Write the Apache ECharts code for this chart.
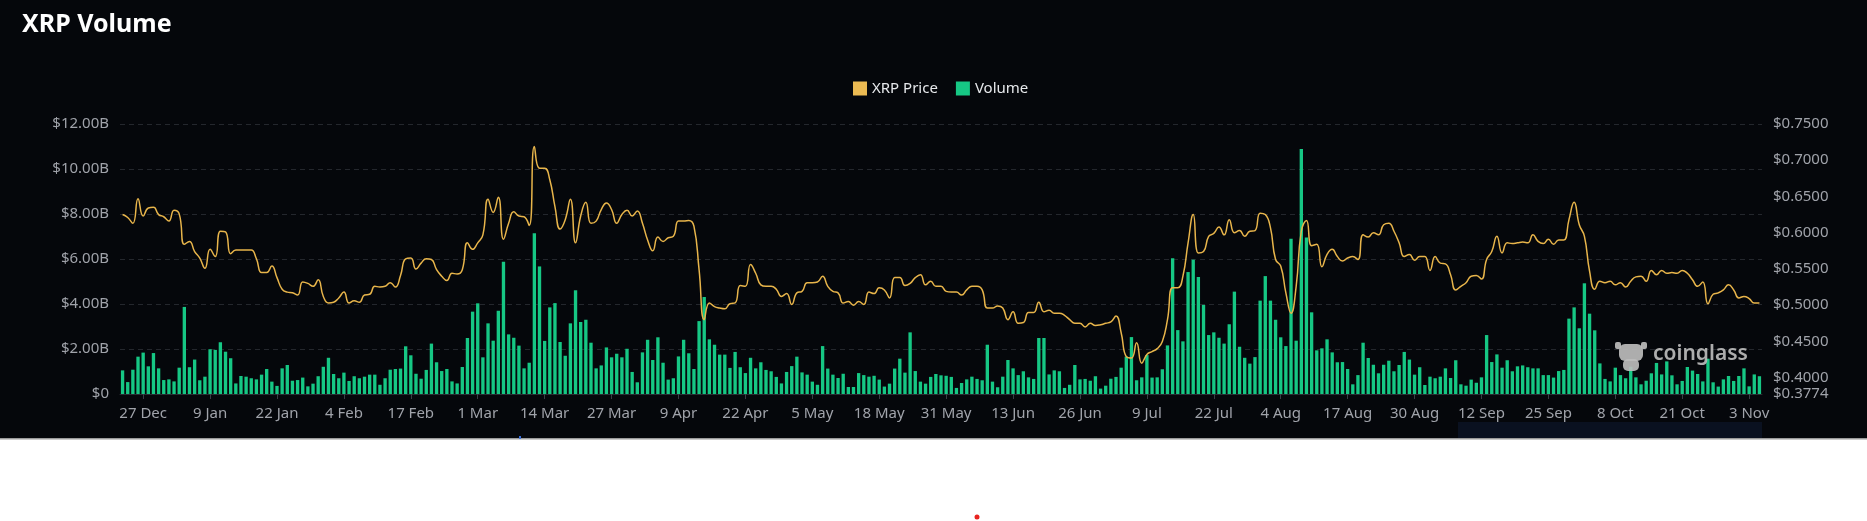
<!DOCTYPE html>
<html>
<head>
<meta charset="utf-8">
<script src="https://cdn.jsdelivr.net/npm/echarts@6/dist/echarts.min.js"></script>
<style>
html,body{margin:0;padding:0;background:#ffffff;}
#chart{width:1867px;height:521px;}
</style>
</head>
<body>
<div id="chart"></div>
<script>
// Daily categories: 23 Dec 2023 .. 5 Nov 2024
var startDate = [2023, 11, 23];
var dayCount = 319;
var monthNames = ['Jan','Feb','Mar','Apr','May','Jun','Jul','Aug','Sep','Oct','Nov','Dec'];
var categories = [];
for (var d = 0; d < dayCount; d++) {
  var dt = new Date(Date.UTC(startDate[0], startDate[1], startDate[2] + d));
  categories.push(dt.getUTCDate() + ' ' + monthNames[dt.getUTCMonth()]);
}

// Right axis tick labels
var priceTicks = [0.3774, 0.40, 0.45, 0.50, 0.55, 0.60, 0.65, 0.70, 0.75];

// Volume in billions USD
var volumeB = [
1.05,0.53,1.08,1.66,1.84,1.23,1.82,1.14,0.62,0.65,
0.56,1.17,3.87,1.19,1.53,0.61,0.77,1.99,1.96,2.30,
1.88,1.59,0.47,0.80,0.77,0.70,0.65,0.86,1.11,0.55,
0.36,1.14,1.29,0.59,0.62,0.73,0.34,0.46,0.79,1.21,
1.61,0.89,0.70,0.95,0.58,0.79,0.70,0.77,0.86,0.86,
0.41,0.70,1.08,1.11,1.13,2.12,1.72,0.90,0.68,1.07,
2.24,1.41,1.02,1.11,0.56,0.47,1.20,2.49,3.66,4.03,
1.63,3.14,2.37,3.70,5.88,2.65,2.50,2.15,1.14,1.39,
7.14,5.67,2.36,3.85,4.04,2.31,1.70,3.14,4.61,3.20,
3.30,2.28,1.14,1.27,2.07,1.63,1.79,1.63,2.01,0.98,
0.52,1.85,2.41,1.51,2.52,1.39,0.64,0.70,1.67,2.41,
1.81,1.11,3.24,4.31,2.43,2.19,1.75,1.75,1.16,1.87,
1.19,0.93,1.61,1.14,1.41,1.07,1.01,0.76,0.47,0.98,
1.24,1.66,0.96,0.86,0.55,0.41,2.13,1.13,0.86,0.71,
0.90,0.31,0.31,0.93,0.84,0.77,0.81,0.64,0.33,0.46,
1.13,1.57,0.95,2.74,1.02,0.55,0.46,0.76,0.89,0.83,
0.81,0.76,0.27,0.49,0.65,0.77,0.67,0.61,2.19,0.55,
0.30,0.77,1.51,1.14,0.84,1.01,0.74,0.67,2.49,2.49,
0.87,1.05,1.01,0.27,0.41,1.29,0.65,0.67,0.59,0.79,
0.24,0.37,0.68,0.76,1.17,1.66,2.53,0.61,0.74,1.73,
0.73,0.74,1.10,2.16,6.03,2.84,2.34,5.42,5.97,5.20,
3.96,2.62,2.74,2.50,2.24,3.10,4.55,2.10,1.61,1.35,
1.64,4.15,5.24,4.15,3.30,2.52,2.13,6.90,2.37,10.89,
6.96,3.63,1.94,2.03,2.43,1.85,1.41,1.42,1.11,0.43,
0.84,2.28,1.60,1.30,0.92,1.30,1.48,1.01,1.29,1.87,
1.53,0.86,1.19,0.40,0.77,0.70,0.77,1.14,0.71,1.50,
0.43,0.37,0.64,0.50,0.74,2.62,1.42,1.76,1.17,1.50,
1.01,1.23,1.27,1.19,1.14,1.14,0.84,0.84,0.73,1.02,
1.07,3.35,3.85,2.92,4.92,3.57,2.83,1.36,0.67,0.56,
1.17,0.84,0.70,1.21,0.74,0.43,0.59,0.92,1.38,0.87,
1.45,0.83,0.43,0.58,1.20,1.04,0.89,0.56,1.57,0.52,
0.33,0.65,0.80,0.58,0.80,1.14,0.34,0.87,0.79
];

// XRP price in USD
var priceUSD = [
0.625,0.621,0.613,0.647,0.623,0.634,0.635,0.625,0.622,0.616,
0.631,0.626,0.584,0.588,0.574,0.565,0.551,0.577,0.567,0.602,
0.601,0.571,0.576,0.576,0.576,0.576,0.564,0.545,0.545,0.554,
0.538,0.522,0.518,0.517,0.514,0.532,0.530,0.526,0.535,0.512,
0.503,0.504,0.510,0.518,0.503,0.506,0.504,0.514,0.515,0.526,
0.525,0.526,0.531,0.525,0.541,0.564,0.565,0.550,0.558,0.564,
0.563,0.549,0.540,0.534,0.544,0.543,0.549,0.586,0.577,0.586,
0.597,0.646,0.628,0.649,0.591,0.613,0.629,0.623,0.622,0.610,
0.719,0.689,0.689,0.673,0.636,0.605,0.618,0.646,0.586,0.623,
0.642,0.613,0.616,0.632,0.641,0.632,0.613,0.625,0.631,0.623,
0.630,0.613,0.590,0.575,0.594,0.588,0.593,0.595,0.616,0.616,
0.617,0.609,0.549,0.480,0.503,0.498,0.496,0.495,0.502,0.503,
0.527,0.526,0.556,0.544,0.528,0.526,0.526,0.522,0.512,0.516,
0.501,0.517,0.519,0.531,0.531,0.532,0.540,0.526,0.519,0.517,
0.503,0.505,0.500,0.505,0.501,0.518,0.516,0.524,0.521,0.510,
0.538,0.538,0.527,0.530,0.538,0.542,0.528,0.533,0.526,0.526,
0.519,0.518,0.518,0.514,0.521,0.526,0.526,0.521,0.496,0.496,
0.499,0.496,0.480,0.491,0.475,0.476,0.490,0.490,0.504,0.491,
0.493,0.489,0.489,0.486,0.480,0.475,0.475,0.470,0.475,0.472,
0.473,0.475,0.477,0.485,0.462,0.429,0.427,0.448,0.420,0.432,
0.436,0.440,0.450,0.480,0.524,0.524,0.540,0.586,0.625,0.572,
0.574,0.595,0.599,0.608,0.597,0.618,0.600,0.603,0.595,0.602,
0.603,0.627,0.625,0.607,0.563,0.554,0.517,0.489,0.526,0.602,
0.617,0.582,0.584,0.553,0.570,0.577,0.567,0.561,0.565,0.567,
0.563,0.597,0.594,0.600,0.597,0.611,0.613,0.602,0.586,0.567,
0.570,0.562,0.567,0.567,0.548,0.567,0.558,0.557,0.542,0.521,
0.526,0.531,0.540,0.541,0.536,0.563,0.574,0.595,0.572,0.586,
0.585,0.586,0.587,0.586,0.597,0.588,0.585,0.591,0.584,0.590,
0.590,0.618,0.642,0.611,0.595,0.547,0.522,0.533,0.531,0.533,
0.528,0.531,0.525,0.533,0.539,0.540,0.533,0.548,0.542,0.548,
0.544,0.545,0.544,0.548,0.544,0.535,0.526,0.532,0.502,0.515,
0.517,0.521,0.528,0.521,0.510,0.512,0.509,0.503,0.503
];

var volumeUSD = volumeB.map(function (v) { return v * 1e9; });

var chart = echarts.init(document.getElementById('chart'), null, {renderer: 'canvas'});
var labelColor = '#a0a3aa';
var fontFam = '"Noto Sans", Inter, sans-serif';
var labelIdx = function (i) { return i >= 4 && (i - 4) % 13 === 0; };
var logoFill = 'rgba(188,188,188,0.92)';

chart.setOption({
  backgroundColor: 'transparent',
  animation: false,
  graphic: [
    {type: 'rect', z: -10, silent: true, shape: {x: 0, y: 0, width: 1867, height: 438}, style: {fill: '#05070b'}},
    {type: 'rect', z: -9, silent: true, shape: {x: 1458, y: 422, width: 304, height: 16}, style: {fill: '#0a1120'}},
    {type: 'rect', z: -9, silent: true, shape: {x: 0, y: 438, width: 1867, height: 1.5}, style: {fill: '#9a9a9a'}},
    {type: 'rect', z: -8, silent: true, shape: {x: 519, y: 436, width: 2, height: 3}, style: {fill: '#3a6fd8'}},
    {type: 'circle', silent: true, shape: {cx: 977, cy: 517, r: 2.5}, style: {fill: '#e8231f'}},
    {type: 'text', left: 22, top: 12, silent: true, style: {text: 'XRP Volume', fill: '#ffffff', font: 'bold 25px ' + fontFam}},
    {type: 'text', left: 1653, top: 344, z: 100, silent: true, style: {text: 'coinglass', fill: logoFill, font: '600 21px ' + fontFam}},
    {type: 'group', z: 100, silent: true, children: [
      {type: 'rect', z: 100, shape: {x: 1619, y: 344, width: 24, height: 17, r: 6}, style: {fill: logoFill}},
      {type: 'rect', z: 100, shape: {x: 1615, y: 342, width: 6, height: 7, r: 2}, style: {fill: logoFill}},
      {type: 'rect', z: 100, shape: {x: 1641, y: 342, width: 6, height: 7, r: 2}, style: {fill: logoFill}},
      {type: 'rect', z: 100, shape: {x: 1623, y: 359, width: 16, height: 12, r: 5}, style: {fill: logoFill}}
    ]}
  ],
  legend: {
    data: ['XRP Price', 'Volume'],
    left: 848,
    top: 76,
    icon: 'rect',
    itemWidth: 14,
    itemHeight: 14,
    itemGap: 18,
    textStyle: {color: '#e6e8eb', fontSize: 15, fontFamily: fontFam}
  },
  grid: {left: 120, right: 105, top: 124, bottom: 127, containLabel: false},
  xAxis: {
    type: 'category',
    data: categories,
    boundaryGap: true,
    axisLine: {show: true, lineStyle: {color: '#2a2d33'}},
    axisTick: {show: true, alignWithLabel: true, length: 5, lineStyle: {color: '#3a3d44'}, interval: labelIdx},
    axisLabel: {color: labelColor, fontSize: 15, fontFamily: fontFam, margin: 12, interval: labelIdx},
    splitLine: {show: false}
  },
  yAxis: [
    {
      type: 'value', min: 0, max: 12e9, interval: 2e9, position: 'left',
      axisLine: {show: false}, axisTick: {show: false},
      axisLabel: {color: labelColor, fontSize: 15, fontFamily: fontFam, margin: 11,
        formatter: function (v) { return v === 0 ? '$0' : '$' + (v / 1e9).toFixed(2) + 'B'; }},
      splitLine: {show: true, lineStyle: {color: '#24272d', type: [5, 4], width: 1}}
    },
    {
      type: 'value', min: 0.3774, max: 0.75, position: 'right',
      axisLine: {show: false}, axisTick: {show: false},
      axisLabel: {color: labelColor, fontSize: 15, fontFamily: fontFam, margin: 11,
        customValues: priceTicks,
        formatter: function (v) { return '$' + Number(v).toFixed(4); }},
      splitLine: {show: false}
    }
  ],
  series: [
    {
      name: 'Volume', type: 'bar', yAxisIndex: 0, data: volumeUSD,
      barCategoryGap: '35%',
      itemStyle: {color: '#16c784'},
      z: 2
    },
    {
      name: 'XRP Price', type: 'line', yAxisIndex: 1, data: priceUSD,
      smooth: true, showSymbol: false, symbol: 'none',
      lineStyle: {color: '#e8b54b', width: 1.5},
      itemStyle: {color: '#ecba52'},
      z: 3
    }
  ]
});
</script>
</body>
</html>
